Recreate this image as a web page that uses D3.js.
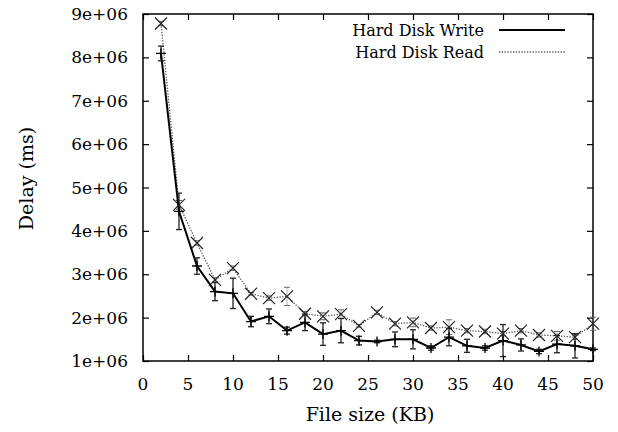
<!DOCTYPE html>
<html>
<head>
<meta charset="utf-8">
<script src="https://cdn.jsdelivr.net/npm/d3@7"></script>
</head>
<body style="margin:0">
<div id="my_dataviz"></div>
<script>
// file sizes (KB)
var fileSizes = [2, 4, 6, 8, 10, 12, 14, 16, 18, 20, 22, 24, 26, 28, 30, 32, 34, 36, 38, 40, 42, 44, 46, 48, 50];
// delays (ms)
var writeMean = [8.09e6, 4.45e6, 3.19e6, 2.60e6, 2.56e6, 1.91e6, 2.03e6, 1.70e6, 1.89e6, 1.62e6, 1.70e6, 1.47e6, 1.45e6,
    1.50e6, 1.50e6, 1.30e6, 1.55e6, 1.35e6, 1.30e6, 1.47e6, 1.37e6, 1.22e6, 1.39e6, 1.35e6, 1.27e6];
var writeErr = [0.17e6, 0.42e6, 0.19e6, 0.21e6, 0.35e6, 0.12e6, 0.17e6, 0.08e6, 0.19e6, 0.26e6, 0.28e6, 0.10e6, 0.03e6,
    0.17e6, 0.22e6, 0.05e6, 0.20e6, 0.15e6, 0.05e6, 0.37e6, 0.14e6, 0.05e6, 0.20e6, 0.28e6, 0.03e6];
var readMean = [8.78e6, 4.60e6, 3.72e6, 2.87e6, 3.14e6, 2.55e6, 2.45e6, 2.49e6, 2.09e6, 2.03e6, 2.08e6, 1.81e6, 2.12e6,
    1.86e6, 1.89e6, 1.76e6, 1.78e6, 1.70e6, 1.68e6, 1.63e6, 1.70e6, 1.60e6, 1.58e6, 1.55e6, 1.86e6];
var readErr = [0.05e6, 0.10e6, 0.05e6, 0.05e6, 0.05e6, 0.03e6, 0.05e6, 0.21e6, 0.05e6, 0.08e6, 0.10e6, 0.03e6, 0.05e6,
    0.05e6, 0.10e6, 0.05e6, 0.17e6, 0.05e6, 0.05e6, 0.05e6, 0.05e6, 0.05e6, 0.10e6, 0.05e6, 0.15e6];

var xTicks = [0, 5, 10, 15, 20, 25, 30, 35, 40, 45, 50];
var yTicks = [1e6, 2e6, 3e6, 4e6, 5e6, 6e6, 7e6, 8e6, 9e6];
var yTickLabels = ["1e+06", "2e+06", "3e+06", "4e+06", "5e+06", "6e+06", "7e+06", "8e+06", "9e+06"];

var seriesNames = ["Hard Disk Write", "Hard Disk Read"];

var FONT = "DejaVu Serif";
var TICK_SIZE = 17;
var TITLE_SIZE = 19;
var LEGEND_SIZE = 16;

var margin = { top: 14, right: 25, bottom: 71, left: 143 },
    width = 618 - margin.left - margin.right,
    height = 432 - margin.top - margin.bottom;

var root = d3.select("#my_dataviz")
    .append("svg")
    .attr("width", 618)
    .attr("height", 432);

var svg = root.append("g")
    .attr("transform", "translate(" + margin.left + "," + margin.top + ")");

var x = d3.scaleLinear().domain([0, 50]).range([0, width]);
var y = d3.scaleLinear().domain([1e6, 9e6]).range([height, 0]);

var tickLen = 6;

// ticks drawn by the axes (inward, mirrored), labels drawn as plain text below
svg.append("g")
    .attr("transform", "translate(0," + height + ")")
    .call(d3.axisBottom(x).tickValues(xTicks).tickSizeInner(-tickLen).tickSizeOuter(0).tickFormat(""))
    .call(g => g.select(".domain").remove());
svg.append("g")
    .call(d3.axisTop(x).tickValues(xTicks).tickSizeInner(-tickLen).tickSizeOuter(0).tickFormat(""))
    .call(g => g.select(".domain").remove());
svg.append("g")
    .call(d3.axisLeft(y).tickValues(yTicks).tickSizeInner(-tickLen).tickSizeOuter(0).tickFormat(""))
    .call(g => g.select(".domain").remove());
svg.append("g")
    .attr("transform", "translate(" + width + ",0)")
    .call(d3.axisRight(y).tickValues(yTicks).tickSizeInner(-tickLen).tickSizeOuter(0).tickFormat(""))
    .call(g => g.select(".domain").remove());
svg.selectAll(".tick line").attr("stroke", "#000").attr("stroke-width", 1.2);

svg.selectAll("xLabels")
    .data(xTicks)
    .enter()
    .append("text")
    .attr("x", function (d) { return x(d) })
    .attr("y", height + 29)
    .attr("text-anchor", "middle")
    .attr("font-family", FONT)
    .attr("font-size", TICK_SIZE)
    .text(function (d) { return d; });

svg.selectAll("yLabels")
    .data(yTicks)
    .enter()
    .append("text")
    .attr("x", -15)
    .attr("y", function (d) { return y(d) + 6 })
    .attr("text-anchor", "end")
    .attr("font-family", FONT)
    .attr("font-size", TICK_SIZE)
    .text(function (d, i) { return yTickLabels[i]; });

// border
svg.append("rect")
    .attr("width", width)
    .attr("height", height)
    .attr("fill", "none")
    .attr("stroke", "#000")
    .attr("stroke-width", 1.5);

// axis titles
svg.append("text")
    .attr("x", width / 2 + 2)
    .attr("y", height + 60)
    .attr("text-anchor", "middle")
    .attr("font-family", FONT)
    .attr("font-size", TITLE_SIZE)
    .text("File size (KB)");
svg.append("text")
    .attr("transform", "translate(" + (-110) + "," + (height / 2 - 9) + ") rotate(-90)")
    .attr("text-anchor", "middle")
    .attr("font-family", FONT)
    .attr("font-size", TITLE_SIZE)
    .text("Delay (ms)");

var writeData = fileSizes.map(function (d, i) { return { x: d, v: writeMean[i], e: writeErr[i] }; });
var readData = fileSizes.map(function (d, i) { return { x: d, v: readMean[i], e: readErr[i] }; });

var line = d3.line()
    .x(function (d) { return x(d.x) })
    .y(function (d) { return y(d.v) });

// read series (grey dotted)
svg.append("path")
    .attr("d", line(readData))
    .attr("fill", "none")
    .attr("stroke", "#555")
    .attr("stroke-width", 1.3)
    .attr("stroke-dasharray", "1.3,1.5");

var cap = 3;
var readBars = svg.selectAll("readErr")
    .data(readData)
    .enter()
    .append("g")
    .attr("stroke", "#666")
    .attr("stroke-width", 1);
readBars.append("line")
    .attr("x1", function (d) { return x(d.x) }).attr("x2", function (d) { return x(d.x) })
    .attr("y1", function (d) { return y(d.v - d.e) }).attr("y2", function (d) { return y(d.v + d.e) })
    .attr("stroke-dasharray", "1,1");
readBars.append("line")
    .attr("x1", function (d) { return x(d.x) - cap }).attr("x2", function (d) { return x(d.x) + cap })
    .attr("y1", function (d) { return y(d.v + d.e) }).attr("y2", function (d) { return y(d.v + d.e) });
readBars.append("line")
    .attr("x1", function (d) { return x(d.x) - cap }).attr("x2", function (d) { return x(d.x) + cap })
    .attr("y1", function (d) { return y(d.v - d.e) }).attr("y2", function (d) { return y(d.v - d.e) });

// read markers (x)
var xm = 6;
svg.selectAll("readPts")
    .data(readData)
    .enter()
    .append("path")
    .attr("d", function (d) {
        var cx = x(d.x), cy = y(d.v);
        return "M" + (cx - xm) + "," + (cy - xm) + "L" + (cx + xm) + "," + (cy + xm) +
            "M" + (cx - xm) + "," + (cy + xm) + "L" + (cx + xm) + "," + (cy - xm);
    })
    .attr("stroke", "#222")
    .attr("stroke-width", 1.2)
    .attr("fill", "none");

// write series (solid)
svg.append("path")
    .attr("d", line(writeData))
    .attr("fill", "none")
    .attr("stroke", "#000")
    .attr("stroke-width", 2);

var writeBars = svg.selectAll("writeErr")
    .data(writeData)
    .enter()
    .append("g")
    .attr("stroke", "#222")
    .attr("stroke-width", 1.3);
writeBars.append("line")
    .attr("x1", function (d) { return x(d.x) }).attr("x2", function (d) { return x(d.x) })
    .attr("y1", function (d) { return y(d.v - d.e) }).attr("y2", function (d) { return y(d.v + d.e) });
writeBars.append("line")
    .attr("x1", function (d) { return x(d.x) - cap }).attr("x2", function (d) { return x(d.x) + cap })
    .attr("y1", function (d) { return y(d.v + d.e) }).attr("y2", function (d) { return y(d.v + d.e) });
writeBars.append("line")
    .attr("x1", function (d) { return x(d.x) - cap }).attr("x2", function (d) { return x(d.x) + cap })
    .attr("y1", function (d) { return y(d.v - d.e) }).attr("y2", function (d) { return y(d.v - d.e) });

// write markers (+)
var pm = 5;
svg.selectAll("writePts")
    .data(writeData)
    .enter()
    .append("path")
    .attr("d", function (d) {
        var cx = x(d.x), cy = y(d.v);
        return "M" + (cx - pm) + "," + cy + "L" + (cx + pm) + "," + cy +
            "M" + cx + "," + (cy - pm) + "L" + cx + "," + (cy + pm);
    })
    .attr("stroke", "#000")
    .attr("stroke-width", 1.3)
    .attr("fill", "none");

// legend
var legend = svg.selectAll("myLegend")
    .data(seriesNames)
    .enter()
    .append("g")
    .attr("transform", function (d, i) { return "translate(0," + (16 + i * 22) + ")" });
legend.append("text")
    .attr("x", 341)
    .attr("y", 6)
    .attr("text-anchor", "end")
    .attr("font-family", FONT)
    .attr("font-size", LEGEND_SIZE)
    .text(function (d) { return d; });
legend.append("line")
    .attr("x1", 356)
    .attr("x2", 422)
    .attr("y1", 0)
    .attr("y2", 0)
    .attr("stroke", function (d, i) { return i == 0 ? "#000" : "#555" })
    .attr("stroke-width", function (d, i) { return i == 0 ? 2 : 1.3 })
    .attr("stroke-dasharray", function (d, i) { return i == 0 ? null : "1.3,1.5" });
</script>
</body>
</html>
